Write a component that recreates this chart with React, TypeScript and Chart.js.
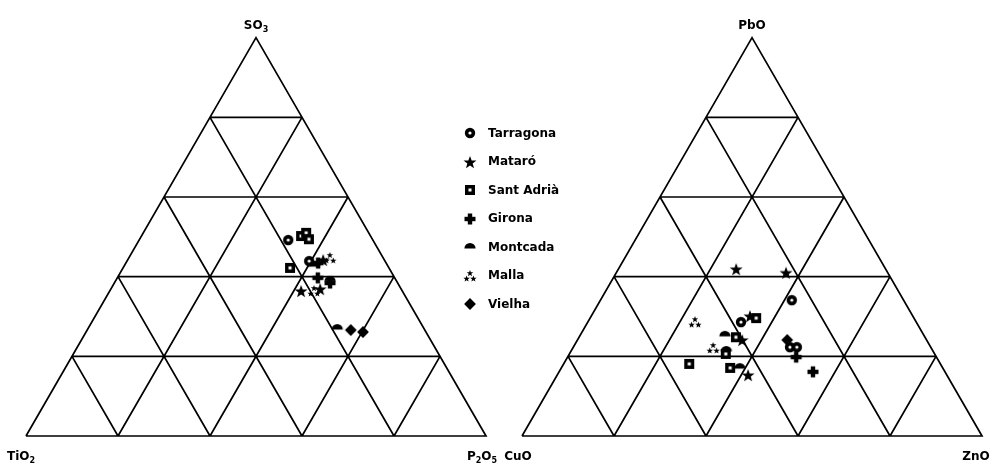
import React, { useEffect, useRef } from 'react';
import { Chart, registerables } from 'chart.js';

Chart.register(...registerables);

// ---------------- data ----------------
const seriesNames = ['Tarragona', 'Mataró', 'Sant Adrià', 'Girona', 'Montcada', 'Malla', 'Vielha'];
const seriesMarkers = ['ring', 'star', 'square', 'cross', 'half', 'tristar', 'diamond'];

// Left diagram: apex SO3, left corner TiO2, right corner P2O5 — [SO3, TiO2, P2O5] (%)
const leftApex = ['SO', '3'];
const leftLeft = ['TiO', '2'];
const leftRight = ['P', '2', 'O', '5'];
const tarragonaA = [[49.2, 18.4, 32.4], [43.9, 16.5, 39.6]];
const mataroA = [[44.2, 13.3, 42.5], [36.4, 22.0, 41.6], [36.9, 17.6, 45.5]];
const santAdriaA = [[50.2, 15.1, 34.7], [51.0, 13.6, 35.4], [49.4, 13.8, 36.8], [42.2, 21.5, 36.3]];
const gironaA = [[43.4, 14.8, 41.8], [39.7, 16.7, 43.6], [38.4, 14.7, 46.9]];
const montcadaA = [[42.9, 15.9, 41.2], [39.2, 14.3, 46.5], [27.1, 18.8, 54.1]];
const mallaA = [[44.7, 11.6, 43.7], [36.4, 19.2, 44.4]];
const vielhaA = [[26.6, 16.1, 57.3], [26.1, 13.7, 60.2]];

// Right diagram: apex PbO, left corner CuO, right corner ZnO — [PbO, CuO, ZnO] (%)
const rightApex = ['PbO'];
const rightLeft = ['CuO'];
const rightRight = ['ZnO'];
const tarragonaB = [[34.1, 24.3, 41.6], [28.6, 38.1, 33.3], [22.3, 30.6, 47.1], [22.3, 29.1, 48.6]];
const mataroB = [[41.9, 32.5, 25.6], [41.0, 22.1, 36.9], [30.1, 35.4, 34.5], [24.1, 40.1, 35.8], [15.3, 43.2, 41.5]];
const santAdriaB = [[29.6, 34.3, 36.1], [24.8, 41.1, 34.1], [20.6, 45.4, 34.0], [18.1, 54.6, 27.3], [17.1, 46.2, 36.7]];
const gironaB = [[19.8, 30.5, 49.7], [16.1, 28.7, 55.2]];
const montcadaB = [[25.4, 43.2, 31.4], [21.6, 44.8, 33.6], [17.3, 44.0, 38.7]];
const mallaB = [[28.6, 48.1, 23.3], [22.1, 47.4, 30.5]];
const vielhaB = [[24.1, 30.3, 45.6]];

const gridTicks = [20, 40, 60, 80];

const seriesA = [tarragonaA, mataroA, santAdriaA, gironaA, montcadaA, mallaA, vielhaA];
const seriesB = [tarragonaB, mataroB, santAdriaB, gironaB, montcadaB, mallaB, vielhaB];

// ---------------- geometry ----------------
const H = Math.sqrt(3) / 2;
const RIGHT_OFFSET = 1.0783;

function ternary(c: number[], offset: number) {
  const [top, left, right] = c;
  const s = top + left + right;
  const a = top / s;
  const r = right / s;
  return { x: offset + r + a / 2, y: a * H };
}

function gridData(offset: number) {
  const pts: { x: number; y: number }[] = [];
  const gap = { x: NaN, y: NaN };
  pts.push(ternary([0, 100, 0], offset), ternary([0, 0, 100], offset), ternary([100, 0, 0], offset), ternary([0, 100, 0], offset), gap);
  for (const t of gridTicks) {
    pts.push(ternary([t, 100 - t, 0], offset), ternary([t, 0, 100 - t], offset), gap);
    pts.push(ternary([100 - t, t, 0], offset), ternary([0, t, 100 - t], offset), gap);
    pts.push(ternary([100 - t, 0, t], offset), ternary([0, 100 - t, t], offset), gap);
  }
  return pts;
}

// ---------------- markers ----------------
function starPath(g: CanvasRenderingContext2D, cx: number, cy: number, ro: number, ri: number) {
  g.beginPath();
  for (let i = 0; i < 10; i++) {
    const r = i % 2 === 0 ? ro : ri;
    const ang = -Math.PI / 2 + (i * Math.PI) / 5;
    const px = cx + r * Math.cos(ang);
    const py = cy + r * Math.sin(ang);
    if (i === 0) g.moveTo(px, py);
    else g.lineTo(px, py);
  }
  g.closePath();
  g.fill();
}

function makeMarker(kind: string): HTMLCanvasElement {
  const size = 18;
  const c = document.createElement('canvas');
  c.width = size;
  c.height = size;
  const g = c.getContext('2d')!;
  const m = size / 2;
  g.fillStyle = '#000';
  switch (kind) {
    case 'ring':
      g.beginPath();
      g.arc(m, m, 5.2, 0, Math.PI * 2);
      g.fill();
      g.fillStyle = '#fff';
      g.beginPath();
      g.arc(m, m, 1.6, 0, Math.PI * 2);
      g.fill();
      break;
    case 'star':
      starPath(g, m, m + 0.7, 6.8, 2.8);
      break;
    case 'square':
      g.fillRect(m - 5, m - 5, 10, 10);
      g.fillStyle = '#fff';
      g.fillRect(m - 1.5, m - 1.5, 3, 3);
      break;
    case 'cross':
      g.fillRect(m - 5.5, m - 2.2, 11, 4.4);
      g.fillRect(m - 2.2, m - 5.5, 4.4, 11);
      break;
    case 'half':
      g.beginPath();
      g.arc(m, m + 1.5, 5.6, Math.PI, Math.PI * 2);
      g.closePath();
      g.fill();
      break;
    case 'tristar':
      starPath(g, m, m - 2.6, 3.4, 1.45);
      starPath(g, m - 3.4, m + 2.8, 3.4, 1.45);
      starPath(g, m + 3.4, m + 2.8, 3.4, 1.45);
      break;
    case 'diamond':
      g.beginPath();
      g.moveTo(m, m - 5.9);
      g.lineTo(m + 5.9, m);
      g.lineTo(m, m + 5.9);
      g.lineTo(m - 5.9, m);
      g.closePath();
      g.fill();
      break;
  }
  return c;
}

const FONT = '"DejaVu Sans", Verdana, sans-serif';

function drawChem(ctx: CanvasRenderingContext2D, parts: string[], cx: number, baseline: number) {
  const main = `bold 12px ${FONT}`;
  const sub = `bold 8px ${FONT}`;
  let w = 0;
  parts.forEach((p, i) => {
    ctx.font = i % 2 === 0 ? main : sub;
    w += ctx.measureText(p).width;
  });
  let x = cx - w / 2;
  ctx.textAlign = 'left';
  ctx.textBaseline = 'alphabetic';
  ctx.fillStyle = '#000';
  parts.forEach((p, i) => {
    const isSub = i % 2 === 1;
    ctx.font = isSub ? sub : main;
    ctx.fillText(p, x, baseline + (isSub ? 3 : 0));
    x += ctx.measureText(p).width;
  });
}

export default function App() {
  const ref = useRef<HTMLCanvasElement | null>(null);

  useEffect(() => {
    document.body.style.margin = '0';
    const canvas = ref.current;
    if (!canvas) return;
    const markers = seriesMarkers.map(makeMarker);

    const datasets: any[] = seriesNames.map((name, i) => ({
      label: name,
      data: [...seriesA[i].map((c) => ternary(c, 0)), ...seriesB[i].map((c) => ternary(c, RIGHT_OFFSET))],
      pointStyle: markers[i],
      pointRadius: 5,
      pointHoverRadius: 5,
      showLine: false,
      order: seriesNames.length - i,
    }));
    datasets.push({
      label: 'grid',
      data: [...gridData(0), { x: NaN, y: NaN }, ...gridData(RIGHT_OFFSET)],
      showLine: true,
      spanGaps: false,
      borderColor: '#000',
      borderWidth: 1.7,
      pointRadius: 0,
      borderJoinStyle: 'miter',
      order: 100,
    });

    const labelsPlugin = {
      id: 'ternaryLabels',
      afterDraw(chart: any) {
        const ctx = chart.ctx as CanvasRenderingContext2D;
        const xs = chart.scales.x;
        const ys = chart.scales.y;
        ctx.save();
        const apexY = ys.getPixelForValue(H);
        const baseY = ys.getPixelForValue(0);
        drawChem(ctx, leftApex, xs.getPixelForValue(0.5), apexY - 9);
        drawChem(ctx, rightApex, xs.getPixelForValue(RIGHT_OFFSET + 0.5), apexY - 9);
        drawChem(ctx, leftLeft, xs.getPixelForValue(0) - 5, baseY + 24);
        drawChem(ctx, leftRight, xs.getPixelForValue(1) - 4, baseY + 24);
        drawChem(ctx, rightLeft, xs.getPixelForValue(RIGHT_OFFSET) - 4, baseY + 24);
        drawChem(ctx, rightRight, xs.getPixelForValue(RIGHT_OFFSET + 1) - 6, baseY + 24);

        // legend
        const lx = 470;
        const ly0 = 133;
        const step = 28.5;
        ctx.font = `bold 12px ${FONT}`;
        ctx.textAlign = 'left';
        ctx.textBaseline = 'middle';
        ctx.fillStyle = '#000';
        seriesNames.forEach((name, i) => {
          const y = ly0 + i * step;
          const mk = markers[i];
          ctx.drawImage(mk, Math.round(lx - mk.width / 2), Math.round(y - mk.height / 2));
          ctx.fillText(name, 488, y + 0.5);
        });
        ctx.restore();
      },
    };

    const xMin = -26 / 460;
    const xMax = xMin + 997 / 460;
    const yMax = 436 / 460;
    const yMin = yMax - 463 / 460;

    const chart = new Chart(canvas, {
      type: 'scatter',
      data: { datasets },
      options: {
        animation: false,
        responsive: false,
        maintainAspectRatio: false,
        layout: { padding: 0, autoPadding: false },
        events: [],
        plugins: { legend: { display: false }, tooltip: { enabled: false }, title: { display: false } },
        scales: {
          x: { type: 'linear', min: xMin, max: xMax, display: false },
          y: { type: 'linear', min: yMin, max: yMax, display: false },
        },
      },
      plugins: [labelsPlugin],
    } as any);
    return () => chart.destroy();
  }, []);

  return (
    <div style={{ width: 997, height: 463, background: '#fff' }}>
      <canvas ref={ref} width={997} height={463} style={{ display: 'block' }} />
    </div>
  );
}
